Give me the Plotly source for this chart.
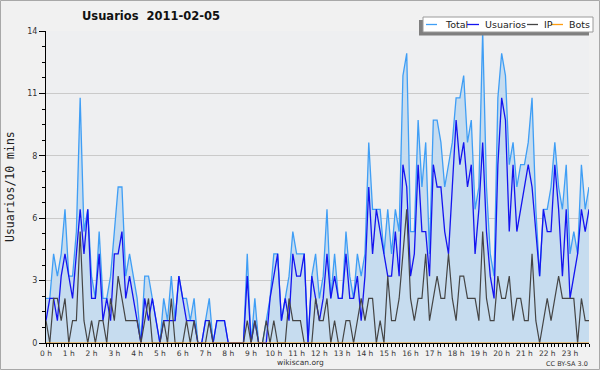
import plotly.graph_objects as go

# ---- data (values per 10 minutes, 2011-02-05) ----
total = [2, 2, 4, 3, 4, 6, 3, 3, 5, 11,
         5, 6, 3, 2, 5, 2, 2, 3, 5, 7,
         7, 3, 4, 3, 2, 0, 3, 3, 2, 1,
         0, 2, 1, 3, 1, 3, 2, 2, 1, 2,
         0, 0, 1, 2, 0, 1, 1, 1, 0, 0,
         0, 0, 0, 4, 0, 2, 0, 0, 1, 2,
         4, 4, 1, 2, 3, 5, 4, 4, 4, 0,
         3, 4, 2, 3, 6, 2, 4, 2, 2, 5,
         3, 2, 4, 3, 4, 9, 6, 6, 6, 4,
         6, 4, 6, 5, 12, 13, 5, 5, 10, 7,
         9, 4, 10, 10, 9, 7, 8, 9, 11, 11,
         12, 9, 10, 6, 7, 14, 7, 4, 3, 11,
         13, 12, 8, 9, 7, 8, 8, 9, 11, 6,
         3, 6, 6, 7, 9, 7, 6, 8, 4, 5,
         4, 8, 6, 7]
usuarios = [1, 2, 2, 1, 3, 4, 3, 2, 4, 6,
            4, 6, 2, 2, 4, 1, 2, 1, 4, 4,
            5, 2, 3, 2, 1, 0, 2, 1, 2, 1,
            0, 1, 1, 1, 1, 3, 2, 1, 1, 1,
            0, 0, 1, 1, 0, 1, 1, 1, 0, 0,
            0, 0, 0, 3, 0, 1, 0, 0, 0, 2,
            3, 4, 1, 2, 1, 4, 3, 3, 4, 0,
            3, 2, 1, 2, 4, 2, 3, 2, 2, 4,
            2, 2, 3, 1, 3, 7, 4, 6, 5, 4,
            3, 3, 5, 3, 8, 7, 3, 4, 8, 5,
            5, 3, 8, 7, 7, 5, 4, 7, 10, 8,
            9, 7, 8, 4, 6, 9, 5, 3, 2, 8,
            11, 10, 5, 8, 5, 6, 7, 8, 7, 5,
            3, 6, 5, 5, 8, 6, 3, 6, 2, 3,
            4, 6, 5, 6]
ip = [1, 0, 2, 2, 1, 2, 0, 1, 1, 5,
      1, 0, 1, 0, 1, 1, 0, 2, 1, 3,
      2, 1, 1, 1, 1, 0, 1, 2, 0, 0,
      0, 1, 0, 2, 0, 0, 0, 1, 0, 1,
      0, 0, 0, 1, 0, 0, 0, 0, 0, 0,
      0, 0, 0, 1, 0, 1, 0, 0, 1, 0,
      1, 0, 0, 0, 2, 1, 1, 1, 0, 0,
      0, 2, 1, 1, 2, 0, 1, 0, 0, 1,
      1, 0, 1, 2, 1, 2, 2, 0, 1, 0,
      3, 1, 1, 2, 4, 6, 2, 1, 2, 2,
      4, 1, 2, 3, 2, 2, 4, 2, 1, 3,
      3, 2, 2, 2, 1, 5, 2, 1, 1, 3,
      2, 2, 3, 1, 2, 2, 1, 1, 4, 1,
      0, 1, 2, 1, 2, 3, 2, 2, 2, 2,
      0, 2, 1, 1]
bots = [0] * 144

slots = list(range(144))  # 10-minute slots
hour_ticks = [0, 6, 12, 18, 24, 30, 36, 42, 48, 54, 60, 66,
              72, 78, 84, 90, 96, 102, 108, 114, 120, 126, 132, 138]
hour_labels = ["0 h", "1 h", "2 h", "3 h", "4 h", "5 h", "6 h", "7 h",
               "8 h", "9 h", "10 h", "11 h", "12 h", "13 h", "14 h", "15 h",
               "16 h", "17 h", "18 h", "19 h", "20 h", "21 h", "22 h", "23 h"]
y_ticks = [0, 2.8, 5.6, 8.4, 11.2, 14]
y_labels = ["0", "3", "6", "8", "11", "14"]

C_TOTAL = "#3f9ef5"
C_USR = "#1414f0"
C_IP = "#454545"
C_BOTS = "#ff9d10"

W, H = 600, 370
ML, MR, MT, MB = 46, 11, 31, 27
PW, PH = W - ML - MR, H - MT - MB


def px(x):
    return (x - ML) / PW


def py(y):
    return (H - MB - y) / PH


fig = go.Figure()
fig.add_trace(go.Scatter(x=slots, y=total, name="Total", mode="lines",
                         line=dict(color=C_TOTAL, width=1.3),
                         fill="tozeroy", fillcolor="#c6dcef"))
fig.add_trace(go.Scatter(x=slots, y=usuarios, name="Usuarios", mode="lines",
                         line=dict(color=C_USR, width=1.3)))
fig.add_trace(go.Scatter(x=slots, y=ip, name="IP", mode="lines",
                         line=dict(color=C_IP, width=1.2)))
fig.add_trace(go.Scatter(x=slots, y=bots, name="Bots", mode="lines",
                         line=dict(color=C_BOTS, width=1.2)))

font_main = "DejaVu Sans"

fig.update_layout(
    width=W, height=H,
    margin=dict(l=ML, r=MR, t=MT, b=MB, pad=0),
    paper_bgcolor="#f1f1f1",
    plot_bgcolor="#eeeff1",
    showlegend=False,
    font=dict(family=font_main, size=8, color="#333333"),
    xaxis=dict(range=[0, 143], tickmode="array", tickvals=hour_ticks,
               ticktext=hour_labels, ticks="outside", ticklen=3,
               tickcolor="black", tickwidth=1,
               showline=True, linecolor="black", linewidth=1,
               showgrid=False, zeroline=False,
               tickfont=dict(family=font_main, size=7.5, color="#333333"),
               minor=dict(tickmode="linear", tick0=0, dtick=1, ticks="outside",
                          ticklen=3, tickcolor="black", tickwidth=1,
                          showgrid=False)),
    yaxis=dict(range=[0, 14], tickmode="array", tickvals=y_ticks,
               ticktext=y_labels, ticks="outside", ticklen=6,
               tickcolor="black", tickwidth=1,
               showline=True, linecolor="black", linewidth=1,
               showgrid=True, gridcolor="#cacaca", gridwidth=1,
               zeroline=False,
               tickfont=dict(family=font_main, size=8, color="#333333"),
               minor=dict(tickmode="linear", tick0=0, dtick=0.7, ticks="outside",
                          ticklen=3, tickcolor="black", tickwidth=1,
                          showgrid=False)),
)

shapes = [
    # outer frame
    dict(type="rect", xref="paper", yref="paper",
         x0=px(0.5), x1=px(599.5), y0=py(0.5), y1=py(369.5),
         line=dict(color="#a8a8a8", width=1), fillcolor="rgba(0,0,0,0)",
         layer="below"),
    # legend shadow
    dict(type="rect", xref="paper", yref="paper",
         x0=px(419), x1=px(589), y0=py(20), y1=py(35.5),
         line=dict(width=0), fillcolor="#7f7f7f"),
    # legend box
    dict(type="rect", xref="paper", yref="paper",
         x0=px(423), x1=px(593), y0=py(17), y1=py(32),
         line=dict(color="#9a9a9a", width=1), fillcolor="white"),
]
legend_items = [("Total", C_TOTAL, 426, 437, 443),
                ("Usuarios", C_USR, 467, 479, 483),
                ("IP", C_IP, 527, 538, 542),
                ("Bots", C_BOTS, 551, 563, 567)]
annotations = []
for name, col, s0, s1, tx in legend_items:
    shapes.append(dict(type="line", xref="paper", yref="paper",
                       x0=px(s0), x1=px(s1), y0=py(24.5), y1=py(24.5),
                       line=dict(color=col, width=1.3)))
    annotations.append(dict(text=name, xref="paper", yref="paper",
                            x=px(tx), y=py(24.5), xanchor="left", yanchor="middle",
                            showarrow=False,
                            font=dict(family=font_main, size=9.5, color="#222222")))

annotations += [
    dict(text="<b>Usuarios  2011-02-05</b>", xref="paper", yref="paper",
         x=px(151), y=py(16), xanchor="center", yanchor="middle", showarrow=False,
         font=dict(family=font_main, size=11.5, color="#111111")),
    dict(text="Usuarios/10 mins", xref="paper", yref="paper",
         x=px(10), y=py(187), xanchor="center", yanchor="middle", showarrow=False,
         textangle=-90,
         font=dict(family="DejaVu Sans Mono", size=11.5, color="#222222")),
    dict(text="wikiscan.org", xref="paper", yref="paper",
         x=px(300), y=py(362.5), xanchor="center", yanchor="middle", showarrow=False,
         font=dict(family=font_main, size=7.5, color="#333333")),
    dict(text="CC BY-SA 3.0", xref="paper", yref="paper",
         x=px(590), y=py(363.5), xanchor="right", yanchor="middle", showarrow=False,
         font=dict(family=font_main, size=6.5, color="#333333")),
]

fig.update_layout(shapes=shapes, annotations=annotations)
fig.write_html("out.html",
               config={"displayModeBar": False},
               post_script="document.body.style.margin='0';"
                           "document.body.style.padding='0';")
